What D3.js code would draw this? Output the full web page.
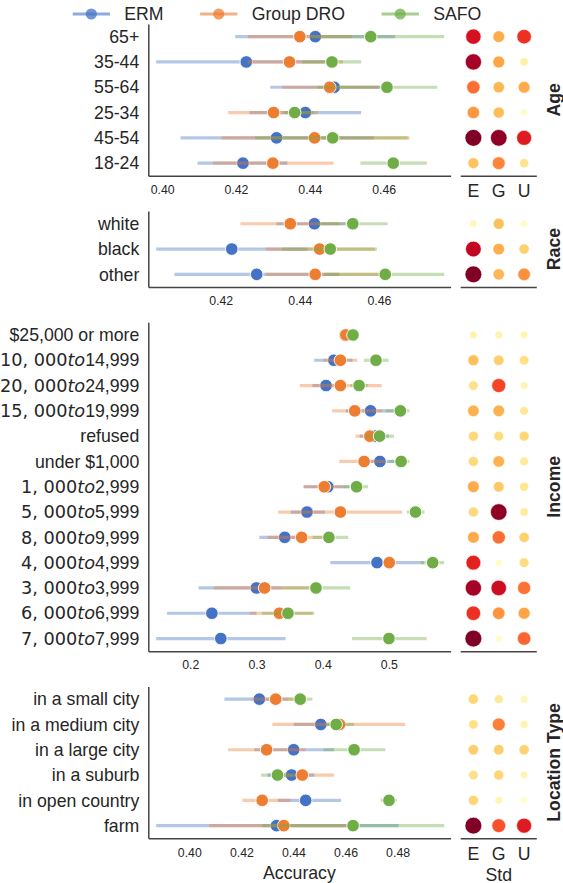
<!DOCTYPE html>
<html>
<head>
<meta charset="utf-8">
<script src="https://cdn.jsdelivr.net/npm/d3@7"></script>
<style>
  body { margin: 0; background: #fff; }
  svg { display: block; }
</style>
</head>
<body>
<svg id="chart" width="563" height="883"></svg>
<script>
// ---- data: [lower CI, mean, upper CI] accuracy per group, and std per method (E, G, U) ----
const seriesNames = ["ERM", "Group DRO", "SAFO"];
const stdColumns = ["E", "G", "U"];

const ageGroups = ["65+", "35-44", "55-64", "25-34", "45-54", "18-24"];
const ageERM  = [[0.4198, 0.4415, 0.4631], [0.3984, 0.4228, 0.4440], [0.4293, 0.4466, 0.4590], [0.4237, 0.4388, 0.4539], [0.4050, 0.4310, 0.4573], [0.4096, 0.4219, 0.4339]];
const ageGDRO = [[0.4232, 0.4373, 0.4514], [0.4232, 0.4345, 0.4490], [0.4325, 0.4454, 0.4585], [0.4179, 0.4302, 0.4422], [0.4161, 0.4413, 0.4670], [0.4137, 0.4300, 0.4464]];
const ageSAFO = [[0.4400, 0.4565, 0.4764], [0.4380, 0.4460, 0.4539], [0.4420, 0.4609, 0.4745], [0.4330, 0.4359, 0.4410], [0.4252, 0.4462, 0.4665], [0.4537, 0.4626, 0.4717]];
const ageStd  = [[0.80, 0.40, 0.70], [0.92, 0.42, 0.10], [0.56, 0.36, 0.40], [0.46, 0.34, 0.02], [1.00, 0.97, 0.76], [0.32, 0.51, 0.18]];
const ageTicks = ["0.40", "0.42", "0.44", "0.46"];

const raceGroups = ["white", "black", "other"];
const raceERM  = [[0.4341, 0.4437, 0.4515], [0.4037, 0.4228, 0.4420], [0.4083, 0.4291, 0.4500]];
const raceGDRO = [[0.4250, 0.4376, 0.4500], [0.4314, 0.4450, 0.4590], [0.4314, 0.4439, 0.4612]];
const raceSAFO = [[0.4445, 0.4534, 0.4622], [0.4355, 0.4477, 0.4595], [0.4463, 0.4616, 0.4765]];
const raceStd  = [[0.05, 0.33, 0.03], [0.85, 0.39, 0.27], [1.00, 0.36, 0.48]];
const raceTicks = ["0.42", "0.44", "0.46"];

const incomeGroups = ["$25,000 or more", "$10,000 to $14,999", "$20,000 to $24,999", "$15,000 to $19,999",
  "refused", "under $1,000", "$1,000 to $2,999", "$5,000 to $5,999", "$8,000 to $9,999",
  "$4,000 to $4,999", "$3,000 to $3,999", "$6,000 to $6,999", "$7,000 to $7,999"];
const incomeERM = [[0.4310, 0.4340, 0.4370], [0.3872, 0.4170, 0.4450], [0.3845, 0.4051, 0.4250], [0.4350, 0.4724, 0.5093],
  [0.4560, 0.4794, 0.5000], [0.4650, 0.4865, 0.5080], [0.3709, 0.4078, 0.4400], [0.3519, 0.3763, 0.4035],
  [0.3042, 0.3427, 0.3750], [0.4116, 0.4821, 0.5530], [0.2125, 0.2998, 0.3384], [0.1647, 0.2326, 0.3000],
  [0.1485, 0.2461, 0.3438]];
const incomeGDRO = [[0.4320, 0.4350, 0.4380], [0.4008, 0.4268, 0.4523], [0.3655, 0.4268, 0.4892], [0.4143, 0.4485, 0.4900],
  [0.4496, 0.4713, 0.4930], [0.4252, 0.4626, 0.4950], [0.3720, 0.4024, 0.4330], [0.3329, 0.4268, 0.5201],
  [0.3167, 0.3682, 0.4050], [0.4950, 0.5006, 0.5060], [0.2353, 0.3123, 0.3790], [0.2895, 0.3346, 0.3850],
  [0.4990, 0.5000, 0.5010]];
const incomeSAFO = [[0.4420, 0.4458, 0.4500], [0.4621, 0.4805, 0.4995], [0.4420, 0.4550, 0.4680], [0.4950, 0.5174, 0.5310],
  [0.4650, 0.4860, 0.5077], [0.5000, 0.5185, 0.5310], [0.4320, 0.4512, 0.4686], [0.5270, 0.5402, 0.5538],
  [0.3850, 0.4094, 0.4387], [0.5480, 0.5662, 0.5836], [0.3384, 0.3899, 0.4415], [0.3085, 0.3476, 0.3872],
  [0.4442, 0.5001, 0.5571]];
const incomeStd = [[0.08, 0.08, 0.07], [0.33, 0.28, 0.20], [0.20, 0.65, 0.07], [0.38, 0.38, 0.15],
  [0.24, 0.22, 0.24], [0.24, 0.38, 0.14], [0.40, 0.30, 0.17], [0.24, 0.97, 0.13], [0.40, 0.56, 0.27],
  [0.74, 0.02, 0.22], [0.92, 0.82, 0.55], [0.70, 0.47, 0.42], [1.00, 0.02, 0.58]];
const incomeTicks = ["0.2", "0.3", "0.4", "0.5"];

const locationGroups = ["in a small city", "in a medium city", "in a large city", "in a suburb", "in open country", "farm"];
const locationERM  = [[0.4135, 0.4269, 0.4380], [0.4401, 0.4505, 0.4600], [0.4250, 0.4401, 0.4556], [0.4300, 0.4393, 0.4480], [0.4340, 0.4447, 0.4583], [0.3873, 0.4335, 0.4804]];
const locationGDRO = [[0.4240, 0.4332, 0.4420], [0.4319, 0.4577, 0.4829], [0.4149, 0.4297, 0.4446], [0.4330, 0.4434, 0.4556], [0.4204, 0.4280, 0.4390], [0.4077, 0.4363, 0.4652]];
const locationSAFO = [[0.4380, 0.4426, 0.4473], [0.4520, 0.4564, 0.4632], [0.4515, 0.4633, 0.4753], [0.4276, 0.4339, 0.4400], [0.4735, 0.4767, 0.4797], [0.4280, 0.4629, 0.4979]];
const locationStd  = [[0.25, 0.15, 0.06], [0.20, 0.52, 0.08], [0.28, 0.28, 0.26], [0.20, 0.25, 0.07], [0.25, 0.07, 0.02], [1.00, 0.62, 0.76]];
const locationTicks = ["0.40", "0.42", "0.44", "0.46", "0.48"];

const panels = [
  { title: "Age", groups: ageGroups, series: [ageERM, ageGDRO, ageSAFO], std: ageStd, ticks: ageTicks, stdLabels: true },
  { title: "Race", groups: raceGroups, series: [raceERM, raceGDRO, raceSAFO], std: raceStd, ticks: raceTicks, stdLabels: false },
  { title: "Income", groups: incomeGroups, series: [incomeERM, incomeGDRO, incomeSAFO], std: incomeStd, ticks: incomeTicks, stdLabels: false },
  { title: "Location Type", groups: locationGroups, series: [locationERM, locationGDRO, locationSAFO], std: locationStd, ticks: locationTicks, stdLabels: true }
];

// ---- layout & style ----
const colors = ["#4472c4", "#ed7d31", "#70ad47"];
const textColor = "#262626";
const spineColor = "#444";
const sans = "'Liberation Sans', Arial, sans-serif";
const mathFont = "'DejaVu Sans', sans-serif";
const labelSize = 17.7, tickSize = 12.3;
const plotL = 148.3, plotR = 450.6;
const hmL = 460.7, hmR = 536.8;
const titleX = 553.3;
const top0 = 24, step = 25.3, gap = 35.3;

const svg = d3.select("#chart");
svg.append("rect").attr("width", 563).attr("height", 883).attr("fill", "#fff");

const stdColor = t => d3.interpolateYlOrRd(t);
const stdRadius = d3.scaleRadial().domain([0, 1]).range([3.3, 8.4]);
const hx = d3.scalePoint().domain(stdColumns).range([hmL, hmR]).padding(0.5);

// Write a category label; "$...$" spans are typeset like math text
function writeLabel(textEl, label) {
  const parts = label.split("$");
  const t = d3.select(textEl);
  t.text(null);
  if (parts.length < 3) { t.append("tspan").text(label); return; }
  parts.forEach((part, i) => {
    if (!part) return;
    if (i % 2 === 0) { t.append("tspan").attr("font-family", sans).text(part); return; }
    const math = part.replace(/\s+/g, "").replace(/,/g, ", ");
    const chunks = math.match(/[A-Za-z]+|[^A-Za-z]+/g) || [];
    chunks.forEach(c => {
      const ts = t.append("tspan").attr("font-family", mathFont).text(c);
      if (/[A-Za-z]/.test(c)) ts.attr("font-style", "italic");
    });
  });
}

let yTop = top0;
panels.forEach(p => {
  const h = p.groups.length * step;
  const y = d3.scaleBand().domain(p.groups).range([yTop, yTop + h]);
  const yc = gname => y(gname) + y.bandwidth() / 2;
  const lo = d3.min(p.series, s => d3.min(s, d => d[0]));
  const hi = d3.max(p.series, s => d3.max(s, d => d[2]));
  const span = hi - lo;
  const x = d3.scaleLinear().domain([lo - 0.0274 * span, hi + 0.0222 * span]).range([plotL, plotR]);

  const g = svg.append("g");

  // bottom axis
  const xAxis = d3.axisBottom(x)
    .tickValues(p.ticks.map(Number))
    .tickFormat((d, i) => p.ticks[i])
    .tickSize(0).tickSizeOuter(0).tickPadding(9.5);
  const xg = g.append("g").attr("transform", `translate(0,${yTop + h})`).call(xAxis);
  xg.select(".domain").attr("stroke", spineColor).attr("stroke-width", 1.5);
  xg.selectAll("text").attr("font-family", sans).attr("font-size", tickSize).attr("fill", textColor);

  // left axis with category labels
  const yAxis = d3.axisLeft(y).tickSize(0).tickSizeOuter(0).tickPadding(9);
  const yg = g.append("g").attr("transform", `translate(${plotL},0)`).call(yAxis);
  yg.select(".domain").attr("stroke", spineColor).attr("stroke-width", 1.5);
  yg.selectAll("text")
    .attr("font-family", sans).attr("font-size", labelSize).attr("fill", textColor)
    .attr("dy", "0.35em")
    .each(function (d) { writeLabel(this, d); });

  // confidence intervals and means, one method at a time
  p.series.forEach((vals, si) => {
    const sg = g.append("g");
    sg.selectAll("line").data(vals).join("line")
      .attr("x1", d => x(d[0])).attr("x2", d => x(d[2]))
      .attr("y1", (d, i) => yc(p.groups[i])).attr("y2", (d, i) => yc(p.groups[i]))
      .attr("stroke", colors[si]).attr("stroke-opacity", 0.4).attr("stroke-width", 3.2);
    sg.selectAll("circle").data(vals).join("circle")
      .attr("cx", d => x(d[1])).attr("cy", (d, i) => yc(p.groups[i]))
      .attr("r", 6.3).attr("fill", colors[si]).attr("stroke", "#fff").attr("stroke-width", 0.9);
  });

  // std dot matrix
  const hg = svg.append("g");
  p.std.forEach((row, ri) => {
    hg.selectAll(null).data(row).join("circle")
      .attr("cx", (d, ci) => hx(stdColumns[ci])).attr("cy", yc(p.groups[ri]))
      .attr("r", d => stdRadius(d)).attr("fill", d => stdColor(d))
      .attr("stroke", "#fff").attr("stroke-width", 0.6);
  });
  hg.append("line").attr("x1", hmL).attr("x2", hmR)
    .attr("y1", yTop + h + 0.5).attr("y2", yTop + h + 0.5)
    .attr("stroke", spineColor).attr("stroke-width", 1.5);
  if (p.stdLabels) {
    hg.selectAll("text.col").data(stdColumns).join("text")
      .attr("x", d => hx(d)).attr("y", yTop + h + 21.5)
      .attr("text-anchor", "middle").attr("font-family", sans).attr("font-size", labelSize)
      .attr("fill", textColor).text(d => d);
  }

  // panel title
  svg.append("text")
    .attr("transform", `translate(${titleX},${yTop + h / 2}) rotate(-90)`)
    .attr("text-anchor", "middle").attr("dy", "0.35em")
    .attr("font-family", sans).attr("font-weight", "bold").attr("font-size", labelSize)
    .attr("fill", textColor).text(p.title);

  yTop += h + gap;
});

// axis titles
svg.append("text").attr("x", (plotL + plotR) / 2).attr("y", 878.5)
  .attr("text-anchor", "middle").attr("font-family", sans).attr("font-size", labelSize)
  .attr("fill", textColor).text("Accuracy");
svg.append("text").attr("x", (hmL + hmR) / 2).attr("y", 880.5)
  .attr("text-anchor", "middle").attr("font-family", sans).attr("font-size", labelSize)
  .attr("fill", textColor).text("Std");

// legend
const legend = svg.append("g").attr("transform", "translate(72.7,14)");
let lx = 0;
seriesNames.forEach((name, i) => {
  const item = legend.append("g").attr("transform", `translate(${lx},0)`);
  item.append("line").attr("x1", 0).attr("x2", 37.3).attr("y1", 0).attr("y2", 0)
    .attr("stroke", colors[i]).attr("stroke-opacity", 0.6).attr("stroke-width", 3);
  item.append("circle").attr("cx", 18.6).attr("cy", 0).attr("r", 5.6)
    .attr("fill", colors[i]).attr("fill-opacity", 0.75);
  const t = item.append("text").attr("x", 51.6).attr("dy", "0.35em")
    .attr("font-family", sans).attr("font-size", labelSize).attr("fill", textColor).text(name);
  lx += 51.6 + t.node().getComputedTextLength() + 36.5;
});
</script>
</body>
</html>
